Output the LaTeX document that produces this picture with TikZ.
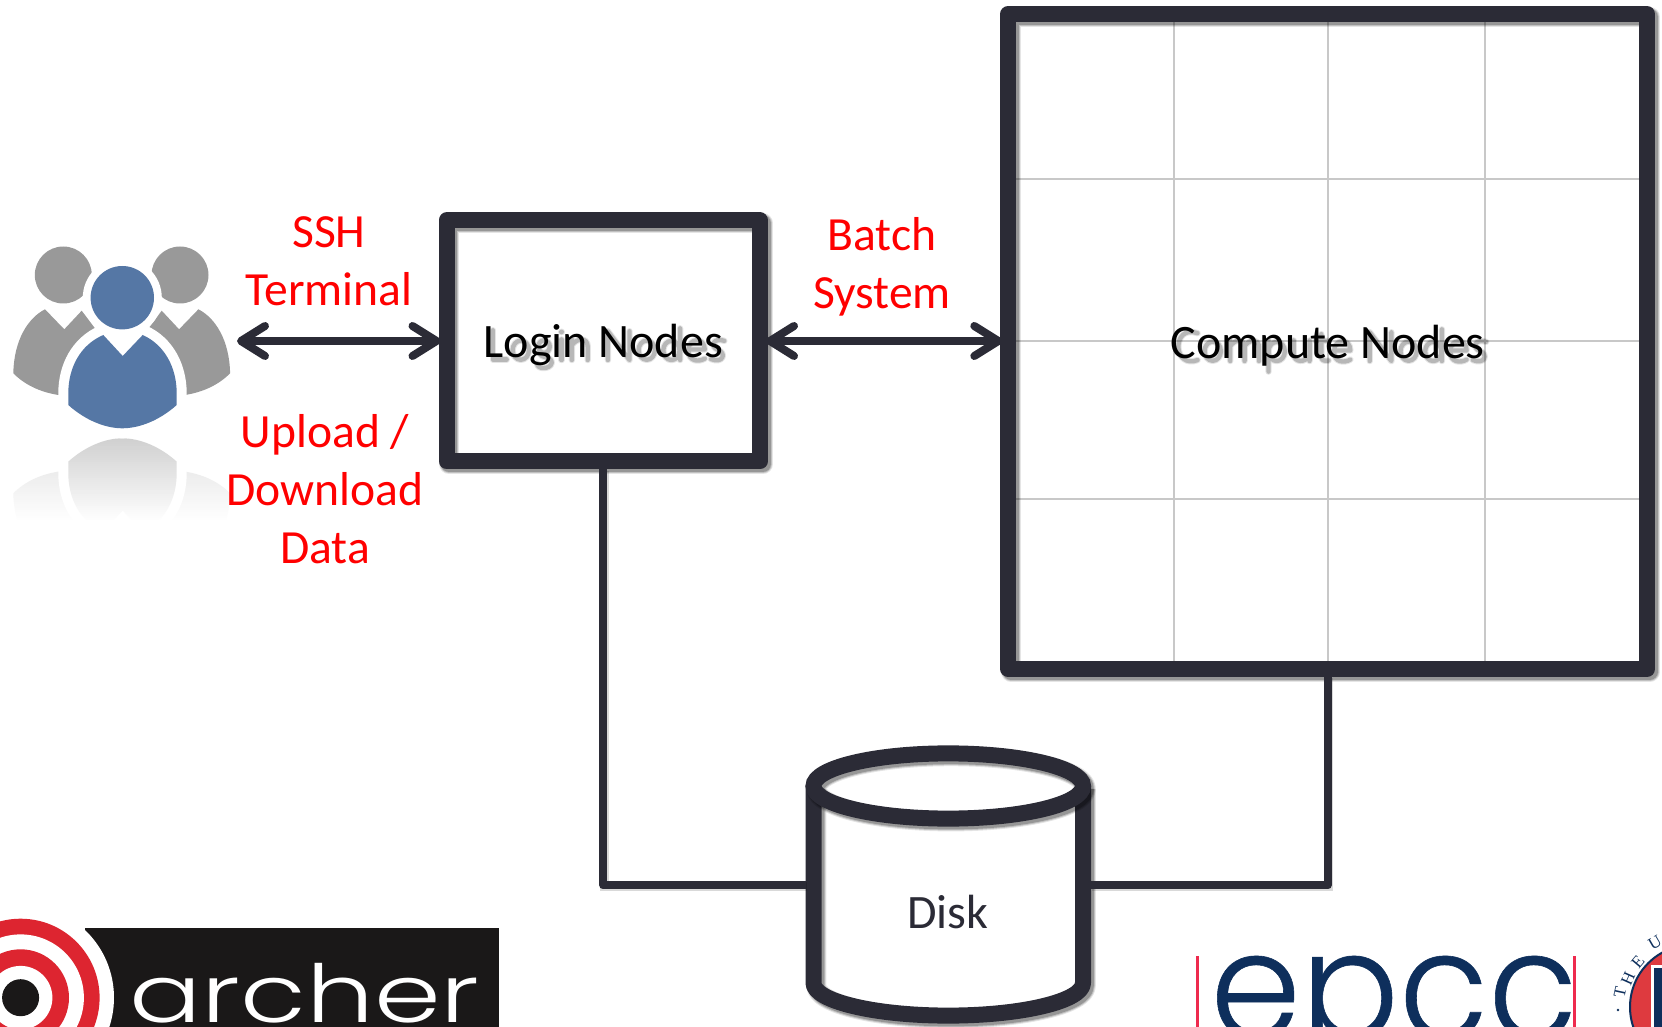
\documentclass[tikz,border=0pt]{standalone}
\usepackage{fontspec}
\usetikzlibrary{arrows.meta,calc}
\setmainfont{Carlito}
\newfontfamily\logofont[UprightFont=* Light]{Poppins}
\newfontfamily\epccfont[UprightFont=* Light,FakeBold=0.4]{Poppins}
\newfontfamily\sealfont{Liberation Serif}
\definecolor{ink}{HTML}{2B2B36}
\definecolor{gridgrey}{HTML}{C8C8C8}
\definecolor{labelred}{HTML}{FF0000}
\definecolor{persongrey}{HTML}{999999}
\definecolor{personblue}{HTML}{5577A5}
\definecolor{logored}{HTML}{DD2530}
\definecolor{logoblack}{HTML}{1A1818}
\definecolor{navy}{HTML}{0E2F5C}
\definecolor{epccred}{HTML}{EE2A4E}
\definecolor{sealred}{HTML}{DE3A3F}
\newcommand\bodyshapes[2]{%
  \fill[#1] (45,309.3)--(64.3,329.3)--(81.7,310.7)--(100,335)--(90,395)--(58.3,395) .. controls (40,392) and (25,385) .. (13.3,373.3) .. controls (14,340) and (28,318) .. (45,309.3)--cycle;
  \fill[#1] (198.4,309.3)--(179.1,329.3)--(161.7,310.7)--(143.4,335)--(153.4,395)--(185.1,395) .. controls (203.4,392) and (218.4,385) .. (230.1,373.3) .. controls (229.4,340) and (215.4,318) .. (198.4,309.3)--cycle;
  \path[fill=#2,line join=round,preaction={draw=white,line width=10pt}] (103.3,335)--(122.7,356)--(142.7,335) .. controls (165,345) and (176.7,368) .. (176.7,393.3)--(176.7,405) .. controls (160,420) and (140,428.3) .. (122.3,428.3) .. controls (105,428.3) and (85,420) .. (68.3,405)--(68.3,393.3) .. controls (68.3,368) and (80,345) .. (103.3,335)--cycle;
}
\tikzset{
  x=.5pt,y=-.5pt,
  softshadow/.style={
    preaction={draw=black,draw opacity=.10,line width=#1+2pt,line join=round,transform canvas={shift={(1.4pt,-1.4pt)}}},
    preaction={draw=black,draw opacity=.16,line width=#1+1pt,line join=round,transform canvas={shift={(1.4pt,-1.4pt)}}},
    preaction={draw=black,draw opacity=.22,line width=#1,line join=round,transform canvas={shift={(1.4pt,-1.4pt)}}}},
  heavybox/.style={draw=ink,line width=8pt,line join=round,softshadow=8pt,inner sep=0pt,text=black,font=\fontsize{24}{29}\selectfont},
  gridline/.style={draw=gridgrey,line width=1pt},
  wire/.style={draw=ink,line width=4pt,line join=round,preaction={draw=black,draw opacity=.15,line width=4.5pt,transform canvas={shift={(.6pt,-.6pt)}}}},
  biarrow/.style={draw=ink,line width=4pt,shorten <=-1pt,shorten >=-1pt,{Straight Barb[round,length=12pt,width=15pt]}-{Straight Barb[round,length=12pt,width=15pt]}},
  redlabel/.style={text=labelred,align=center,inner sep=0pt,font=\fontsize{23.8}{29}\selectfont},
  sealletter/.style={text=navy,inner sep=0pt,font=\sealfont\fontsize{8.5}{9}\selectfont},
  % soft shadow under the two box captions, drawn as strokes in em units
  glyphshadow/.style={draw=black,draw opacity=.2,line width=2.2pt,line cap=round,line join=round,
    preaction={draw=black,draw opacity=.10,line width=3.2pt,line cap=round,line join=round}},
  pics/sL/.style={code={\draw[glyphshadow] (.1,.64)--(.1,.03)--(.39,.03);}},
  pics/so/.style={code={\draw[glyphshadow] (.263,.225) ellipse[x radius=.17,y radius=.2];}},
  pics/sg/.style={code={\draw[glyphshadow] (.22,.3) ellipse[x radius=.12,y radius=.13] (.14,.18) .. controls (.1,.06) and (.4,.1) .. (.38,-.04) .. controls (.36,-.18) and (.06,-.18) .. (.08,-.05);}},
  pics/si/.style={code={\draw[glyphshadow] (.115,.45)--(.115,.02) (.115,.6)--(.115,.61);}},
  pics/sn/.style={code={\draw[glyphshadow] (.1,.45)--(.1,.02) (.1,.33) .. controls (.2,.48) and (.43,.5) .. (.43,.3)--(.43,.02);}},
  pics/sN/.style={code={\draw[glyphshadow] (.1,.02)--(.1,.62)--(.55,.02)--(.55,.62);}},
  pics/sd/.style={code={\draw[glyphshadow] (.25,.22) ellipse[x radius=.17,y radius=.2] (.43,.68)--(.43,.02);}},
  pics/se/.style={code={\draw[glyphshadow] (.08,.24)--(.42,.24) .. controls (.42,.5) and (.08,.5) .. (.08,.22) .. controls (.08,-.02) and (.3,-.02) .. (.42,.05);}},
  pics/ss/.style={code={\draw[glyphshadow] (.33,.42) .. controls (.1,.5) and (.02,.3) .. (.2,.23) .. controls (.38,.16) and (.3,-.06) .. (.05,.04);}},
  pics/sC/.style={code={\draw[glyphshadow] (.48,.6) .. controls (.2,.7) and (.08,.5) .. (.08,.32) .. controls (.08,.1) and (.25,-.05) .. (.48,.04);}},
  pics/sm/.style={code={\draw[glyphshadow] (.1,.45)--(.1,.02) (.1,.33) .. controls (.2,.48) and (.4,.5) .. (.4,.3)--(.4,.02) (.4,.33) .. controls (.5,.48) and (.7,.5) .. (.7,.3)--(.7,.02);}},
  pics/sp/.style={code={\draw[glyphshadow] (.27,.22) ellipse[x radius=.17,y radius=.2] (.1,.45)--(.1,-.2);}},
  pics/su/.style={code={\draw[glyphshadow] (.1,.45)--(.1,.17) .. controls (.1,-.02) and (.35,-.02) .. (.43,.14) (.43,.45)--(.43,.02);}},
  pics/st/.style={code={\draw[glyphshadow] (.15,.58)--(.15,.12) .. controls (.15,.02) and (.22,.02) .. (.3,.03) (.03,.44)--(.3,.44);}},
}
\begin{document}
\begin{tikzpicture}
\useasboundingbox (0,0) rectangle (1662,1027);
\begin{scope}
\clip (0,0) rectangle (1662,1027);
% people icon reflection
\begin{scope}[shift={(0,866.6)},y={(0pt,.5pt)}]
  \bodyshapes{black!20}{black!30}
\end{scope}
\foreach \i in {0,...,80}{
  \pgfmathsetmacro\fadeop{min(1,.38+.62*\i/42)}
  \fill[white,fill opacity=\fadeop] (0,{436+2*\i}) rectangle (238,{438+2*\i});
}
% people icon
\fill[persongrey] (63.3,275) circle[radius=28.5];
\fill[persongrey] (180,275) circle[radius=28.5];
\bodyshapes{persongrey}{personblue}
\fill[white] (122.3,297.7) circle[radius=39.5];
\fill[personblue] (122.3,297.7) circle[radius=31.7];
% compute grid
\foreach \gx in {1174,1328,1485}{\draw[gridline] (\gx,22)--(\gx,661);}
\foreach \gy in {178.7,341,498.7}{\draw[gridline] (1016,\gy)--(1639,\gy);}
% caption shadows
\begin{scope}[shift={(488,361)},x=24pt,y=24pt]
  \pic at (0,0) {sL}; \pic at (.42,0) {so}; \pic at (.947,0) {sg}; \pic at (1.418,0) {si}; \pic at (1.647,0) {sn};
  \pic at (2.398,0) {sN}; \pic at (3.044,0) {so}; \pic at (3.571,0) {sd}; \pic at (4.096,0) {se}; \pic at (4.594,0) {ss};
\end{scope}
\begin{scope}[shift={(1174.5,362)},x=24pt,y=24pt]
  \pic at (0,0) {sC}; \pic at (.533,0) {so}; \pic at (1.06,0) {sm}; \pic at (1.859,0) {sp}; \pic at (2.384,0) {su}; \pic at (2.909,0) {st}; \pic at (3.244,0) {se};
  \pic at (3.968,0) {sN}; \pic at (4.614,0) {so}; \pic at (5.141,0) {sd}; \pic at (5.666,0) {se}; \pic at (6.164,0) {ss};
\end{scope}
% boxes
\node[heavybox,minimum width=156.75pt,minimum height=120.5pt,text height=17pt,text depth=0pt] (login) at (603.25,341) {Login Nodes};
\node[heavybox,minimum width=319.35pt,minimum height=327.5pt,text height=17.5pt,text depth=0pt] (compute) at (1327.65,341.5) {Compute Nodes};
% disk
\path[draw=ink,line width=8pt,line join=round,softshadow=8pt] (813.5,786)--(813.5,983) .. controls (813.5,1001) and (873.9,1015.6) .. (948.25,1015.6) .. controls (1022.6,1015.6) and (1083,1001) .. (1083,983)--(1083,786);
\path[draw=ink,line width=8pt,softshadow=8pt] (948.25,786) ellipse[x radius=134.75,y radius=32.6];
\node[inner sep=0pt,text=ink,font=\fontsize{24}{29}\selectfont] (disk) at (948,912) {Disk};
\coordinate (diskL) at (805.5,885.3);
\coordinate (diskR) at (1091,885.3);
\coordinate (userside) at (239,341);
% connectors
\draw[wire] (login.south) |- (diskL);
\draw[wire] (compute.south) |- (diskR);
\draw[biarrow] (userside) -- (login.west);
\draw[biarrow] (login.east) -- (login.east -| compute.west);
% red labels
\node[redlabel] (ssh) at (329,261) {SSH\\Terminal};
\node[redlabel] (batch) at (882,267) {Batch\\System};
\node[redlabel] (upload) at (325,489) {Upload /\\Download\\Data};
% archer logo
\fill[logoblack] (85,928) rectangle (499,1027);
\fill[white] (20.6,997.7) circle[radius=93.4];
\fill[logored] (20.6,997.7) circle[radius=79];
\fill[white] (20.6,997.7) circle[radius=63.3];
\fill[logored] (20.6,997.7) circle[radius=48.4];
\fill[white] (20.6,997.7) circle[radius=31.8];
\fill[logoblack] (20.6,997.7) circle[radius=18.5];
\node[inner sep=0pt,anchor=base west,text=white,xscale=1.34,font=\logofont\fontsize{40}{40}\selectfont] (archer) at (129,1022.7) {archer};
% epcc logo
\fill[epccred] (1195.7,956) rectangle (1199,1027);
\fill[epccred] (1573,956) rectangle (1576.3,1027);
\node[inner sep=0pt,anchor=base west,text=navy,xscale=.97,font=\epccfont\fontsize{75}{75}\selectfont] (epcc) at (1210,1039) {epcc};
% seal
\fill[white] (1692,1007) circle[radius=66];
\draw[navy,line width=1pt,fill=sealred] (1692,1007) circle[radius=62];
\draw[white,line width=1.5pt,fill=navy] (1652,966) rectangle (1680,1040);
\node[sealletter,rotate=78] (sealT) at (1620,992) {T};
\node[sealletter,rotate=66] (sealH) at (1628,979) {H};
\node[sealletter,rotate=50] (sealE) at (1638,962) {E};
\node[sealletter,rotate=30] (sealU) at (1655,943) {U};
\fill[navy] (1618,1010) circle[radius=1.3];
\end{scope}
\end{tikzpicture}
\end{document}
